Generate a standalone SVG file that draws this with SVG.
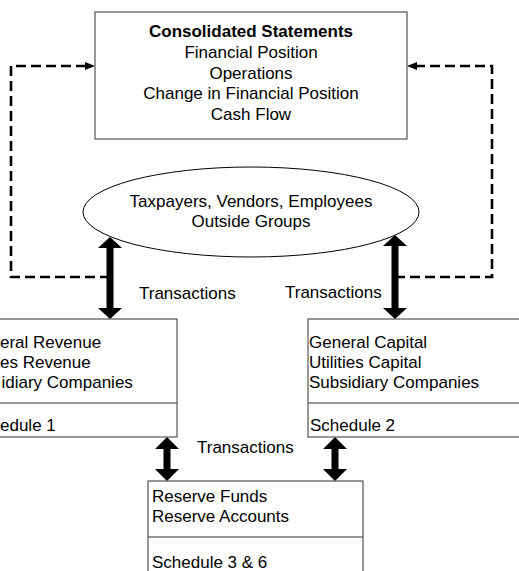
<svg xmlns="http://www.w3.org/2000/svg" width="519" height="571" viewBox="0 0 519 571">
<style>
text{font-family:"Liberation Sans",Arial,sans-serif;font-size:17px;fill:#000}
.c{text-anchor:middle}
.b{font-weight:bold}
.box{fill:#fff;stroke:#333;stroke-width:1}
.dash{fill:none;stroke:#000;stroke-width:2.6;stroke-dasharray:10,5}
.dbl{fill:#000;stroke:none}
</style>
<defs>
<marker id="ah" markerWidth="10" markerHeight="10" refX="1" refY="4" orient="auto" markerUnits="userSpaceOnUse" viewBox="0 0 10 8">
<path d="M0,0 L10,4 L0,8 Z" fill="#000"/>
</marker>
</defs>
<g id="connectors">
<path class="dash" d="M110,277 H11 V66 H86" marker-end="url(#ah)"/>
<path class="dash" d="M395,277 H492 V66 H416" marker-end="url(#ah)"/>
<polygon class="dbl" points="110,237 122,248 113.5,248 113.5,308 122,308 110,319 98,308 106.5,308 106.5,248 98,248"/>
<polygon class="dbl" points="395,235 407,246 398.5,246 398.5,308 407,308 395,319 383,308 391.5,308 391.5,246 383,246"/>
<polygon class="dbl" points="167,437 179,449 170.5,449 170.5,469 179,469 167,481 155,469 163.5,469 163.5,449 155,449"/>
<polygon class="dbl" points="335,437 347,449 338.5,449 338.5,469 347,469 335,481 323,469 331.5,469 331.5,449 323,449"/>
<text x="139" y="299">Transactions</text>
<text x="285" y="298">Transactions</text>
<text x="197" y="453">Transactions</text>
</g>
<g id="consolidated">
<rect class="box" x="95" y="12" width="312" height="127"/>
<text class="c b" x="251" y="37">Consolidated Statements</text>
<text class="c" x="251" y="58">Financial Position</text>
<text class="c" x="251" y="78.5">Operations</text>
<text class="c" x="251" y="99">Change in Financial Position</text>
<text class="c" x="251" y="119.5">Cash Flow</text>
</g>
<g id="outside">
<ellipse cx="251" cy="212" rx="168" ry="45" fill="#fff" stroke="#000" stroke-width="1"/>
<text class="c" x="251" y="207">Taxpayers, Vendors, Employees</text>
<text class="c" x="251" y="227">Outside Groups</text>
</g>
<g id="schedule1">
<rect class="box" x="-40" y="319" width="217" height="118"/>
<line x1="-40" y1="403" x2="177" y2="403" stroke="#333" stroke-width="1"/>
<text x="0" y="348">eral Revenue</text>
<text x="0" y="368">es Revenue</text>
<text x="1.5" y="388">idiary Companies</text>
<text x="0" y="431">edule 1</text>
</g>
<g id="schedule2">
<rect class="box" x="308" y="319" width="220" height="118"/>
<line x1="308" y1="403" x2="528" y2="403" stroke="#333" stroke-width="1"/>
<text x="309" y="348">General Capital</text>
<text x="309" y="368">Utilities Capital</text>
<text x="309" y="388">Subsidiary Companies</text>
<text x="310" y="431">Schedule 2</text>
</g>
<g id="schedule36">
<rect class="box" x="148" y="481" width="215" height="100"/>
<line x1="148" y1="537" x2="363" y2="537" stroke="#333" stroke-width="1"/>
<text x="152" y="502">Reserve Funds</text>
<text x="152" y="522">Reserve Accounts</text>
<text x="152" y="568">Schedule 3 &amp; 6</text>
</g>
</svg>
